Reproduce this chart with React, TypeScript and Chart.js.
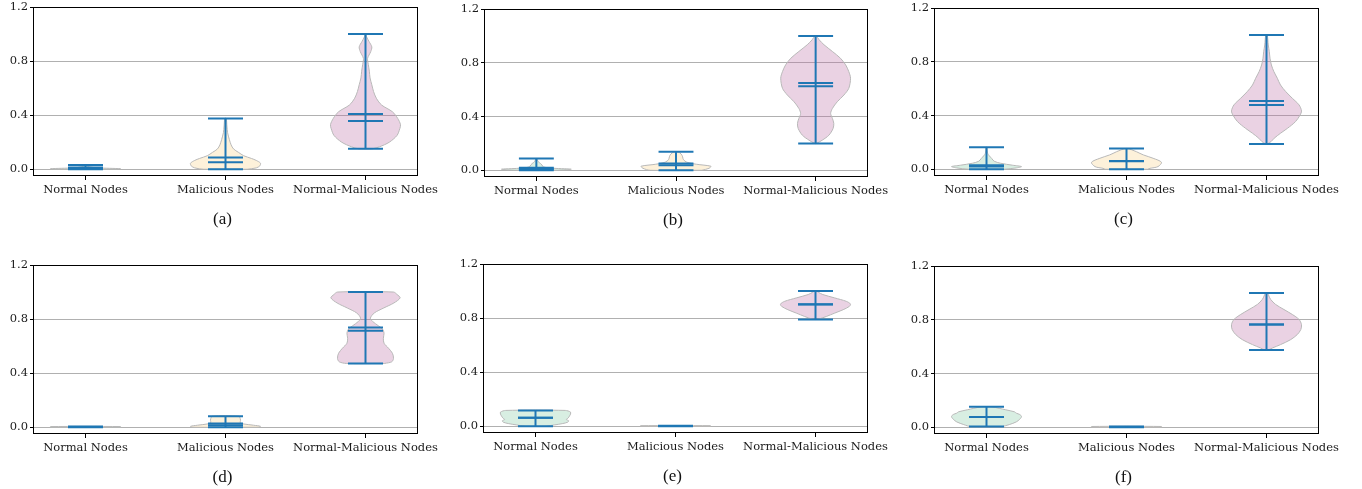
import React, { useEffect, useRef } from 'react';
import { Chart, registerables } from 'chart.js';

Chart.register(...registerables);

// ---------- data ----------
const categories = ['Normal Nodes', 'Malicious Nodes', 'Normal-Malicious Nodes'];
const panelLabels = ['(a)', '(b)', '(c)', '(d)', '(e)', '(f)'];
const yTicks = [0, 0.4, 0.8, 1.2];
const xTicks = [1, 2, 3];

// per panel: [Normal, Malicious, Normal-Malicious]
const mins = [
  [0, 0, 0.151],
  [0, 0, 0.199],
  [0, 0, 0.188],
  [0, 0, 0.472],
  [0, 0, 0.79],
  [0.005, 0, 0.575],
];
const maxs = [
  [0.032, 0.376, 1.0],
  [0.087, 0.137, 1.0],
  [0.164, 0.154, 1.0],
  [0.005, 0.082, 1.0],
  [0.117, 0.004, 1.0],
  [0.152, 0.006, 1.0],
];
const means = [
  [0.012, 0.087, 0.409],
  [0.018, 0.05, 0.625],
  [0.03, 0.062, 0.508],
  [0.002, 0.028, 0.738],
  [0.062, 0.001, 0.902],
  [0.077, 0.002, 0.764],
];
const medians = [
  [0.008, 0.052, 0.357],
  [0.01, 0.038, 0.65],
  [0.02, 0.06, 0.479],
  [0.001, 0.015, 0.713],
  [0.062, 0.001, 0.9],
  [0.077, 0.002, 0.764],
];

// density profiles: [value, relative half-width]
const densA = [
  [[0, 0.9], [0.004, 1.0], [0.01, 0.35], [0.018, 0.1], [0.025, 0.04], [0.032, 0.02]],
  [[0, 0.62], [0.01, 0.88], [0.025, 0.98], [0.045, 1.0], [0.065, 0.88], [0.08, 0.74], [0.1, 0.52], [0.125, 0.37], [0.15, 0.23], [0.18, 0.16], [0.22, 0.11], [0.27, 0.06], [0.32, 0.04], [0.376, 0.02]],
  [[0.151, 0.2], [0.166, 0.4], [0.2, 0.68], [0.25, 0.9], [0.3, 0.98], [0.33, 1.0], [0.376, 0.92], [0.425, 0.77], [0.475, 0.46], [0.525, 0.31], [0.575, 0.23], [0.625, 0.18], [0.675, 0.13], [0.725, 0.11], [0.775, 0.08], [0.82, 0.06], [0.87, 0.15], [0.905, 0.18], [0.945, 0.1], [0.98, 0.03], [1.0, 0.01]],
];
const densB = [
  [[0, 0.6], [0.008, 1.0], [0.015, 0.5], [0.025, 0.2], [0.04, 0.16], [0.05, 0.12], [0.065, 0.05], [0.087, 0.01]],
  [[0, 0.74], [0.015, 0.95], [0.03, 1.0], [0.045, 0.58], [0.06, 0.31], [0.08, 0.21], [0.1, 0.19], [0.12, 0.15], [0.137, 0.06]],
  [[0.199, 0.02], [0.224, 0.19], [0.261, 0.38], [0.311, 0.5], [0.349, 0.52], [0.386, 0.48], [0.423, 0.43], [0.46, 0.48], [0.51, 0.62], [0.56, 0.81], [0.61, 0.95], [0.685, 1.0], [0.734, 0.95], [0.784, 0.86], [0.834, 0.71], [0.884, 0.48], [0.934, 0.24], [0.971, 0.1], [1.0, 0.02]],
];
const densC = [
  [[0, 0.5], [0.01, 0.85], [0.02, 1.0], [0.03, 0.75], [0.045, 0.4], [0.06, 0.22], [0.08, 0.15], [0.1, 0.08], [0.12, 0.03], [0.164, 0.01]],
  [[0, 0.6], [0.007, 0.67], [0.02, 0.9], [0.052, 1.0], [0.082, 0.76], [0.107, 0.48], [0.13, 0.29], [0.146, 0.14], [0.154, 0.05]],
  [[0.188, 0.02], [0.206, 0.13], [0.231, 0.22], [0.268, 0.4], [0.305, 0.6], [0.355, 0.83], [0.404, 0.96], [0.434, 1.0], [0.479, 0.93], [0.528, 0.74], [0.578, 0.55], [0.627, 0.4], [0.677, 0.31], [0.727, 0.21], [0.776, 0.14], [0.826, 0.1], [0.875, 0.08], [0.925, 0.05], [1.0, 0.02]],
];
const densD = [
  [[0, 1.0], [0.005, 1.0]],
  [[0, 0.95], [0.007, 1.0], [0.015, 0.8], [0.025, 0.5], [0.035, 0.42], [0.05, 0.43], [0.065, 0.42], [0.082, 0.38]],
  [[0.472, 0.55], [0.484, 0.75], [0.509, 0.8], [0.547, 0.77], [0.584, 0.66], [0.621, 0.53], [0.658, 0.51], [0.696, 0.53], [0.725, 0.49], [0.75, 0.37], [0.783, 0.2], [0.807, 0.14], [0.845, 0.25], [0.882, 0.52], [0.919, 0.81], [0.957, 0.99], [0.982, 0.9], [1.0, 0.8]],
];
const densE = [
  [[0, 0.3], [0.01, 0.55], [0.02, 0.78], [0.03, 0.92], [0.04, 0.95], [0.05, 0.88], [0.06, 0.93], [0.075, 0.97], [0.09, 1.0], [0.105, 1.0], [0.117, 0.85]],
  [[0, 1.0], [0.004, 1.0]],
  [[0.79, 0.07], [0.812, 0.31], [0.837, 0.55], [0.862, 0.79], [0.887, 0.97], [0.904, 1.0], [0.924, 0.88], [0.949, 0.55], [0.974, 0.21], [0.991, 0.08], [1.0, 0.03]],
];
const densF = [
  [[0.005, 0.45], [0.02, 0.65], [0.04, 0.85], [0.06, 0.95], [0.08, 1.0], [0.095, 0.95], [0.105, 0.85], [0.115, 0.8], [0.13, 0.55], [0.14, 0.38], [0.152, 0.15]],
  [[0, 1.0], [0.006, 1.0]],
  [[0.575, 0.05], [0.59, 0.17], [0.615, 0.4], [0.652, 0.69], [0.69, 0.88], [0.727, 0.98], [0.764, 1.0], [0.802, 0.93], [0.839, 0.74], [0.876, 0.5], [0.914, 0.26], [0.951, 0.12], [0.976, 0.07], [1.0, 0.03]],
];
const densities = [densA, densB, densC, densD, densE, densF];

// ---------- styling / layout ----------
const violinFills = ['rgba(125,198,158,0.3)', 'rgba(248,208,132,0.3)', 'rgba(185,105,162,0.3)'];
const violinEdge = '#b8b8b8';
const statColor = '#1f77b4';
const HALF_W = 0.25;
const CAP_W = 0.125;

// plot area boxes [left, top, right, bottom] in page pixels
const panelBoxes = [
  [33, 7, 418, 176],
  [484, 9, 868, 177],
  [934, 8, 1319, 176],
  [33, 265, 418, 434],
  [483, 264, 868, 433],
  [934, 266, 1319, 434],
];

const FONT = '"DejaVu Serif", "Liberation Serif", serif';
const PAD_TOP = 10;
const PAD_RIGHT = 30;
const Y_AXIS_W = 33;
const X_AXIS_H = 40;

const framePlugin = {
  id: 'frame',
  afterDraw(chart: any) {
    const { ctx, chartArea } = chart;
    const l = Math.round(chartArea.left);
    const t = Math.round(chartArea.top);
    const r = Math.round(chartArea.right);
    const b = Math.round(chartArea.bottom);
    ctx.save();
    ctx.strokeStyle = '#000';
    ctx.lineWidth = 1;
    ctx.strokeRect(l + 0.5, t + 0.5, r - l - 1, b - t - 1);
    ctx.restore();
  },
};

function buildDatasets(p: number) {
  const ds: any[] = [];
  for (let i = 0; i < 3; i++) {
    const pos = xTicks[i];
    const prof = densities[p][i];
    const right = prof.map(([y, w]) => ({ x: pos + w * HALF_W, y }));
    const left = prof.slice().reverse().map(([y, w]) => ({ x: pos - w * HALF_W, y }));
    const poly = [...right, ...left, right[0]];
    ds.push({
      data: poly,
      showLine: true,
      fill: 'shape',
      backgroundColor: violinFills[i],
      borderColor: violinEdge,
      borderWidth: 1,
      pointRadius: 0,
      tension: 0.3,
      order: 2,
    });
    const seg = (a: { x: number; y: number }, b: { x: number; y: number }) => ({
      data: [a, b],
      showLine: true,
      fill: false,
      borderColor: statColor,
      borderWidth: 2,
      pointRadius: 0,
      tension: 0,
      order: 1,
    });
    const mn = mins[p][i];
    const mx = maxs[p][i];
    ds.push(seg({ x: pos, y: mn }, { x: pos, y: mx }));
    [mn, mx, means[p][i], medians[p][i]].forEach((v) => {
      ds.push(seg({ x: pos - CAP_W, y: v }, { x: pos + CAP_W, y: v }));
    });
  }
  return ds;
}

function Panel({ idx }: { idx: number }) {
  const ref = useRef<HTMLCanvasElement>(null);
  const [L, T, R, B] = panelBoxes[idx];
  const cw = R - L + Y_AXIS_W + PAD_RIGHT;
  const ch = B - T + PAD_TOP + X_AXIS_H;

  useEffect(() => {
    if (!ref.current) return;
    const chart = new Chart(ref.current, {
      type: 'scatter',
      data: { datasets: buildDatasets(idx) },
      options: {
        responsive: false,
        animation: false,
        devicePixelRatio: 1,
        layout: { padding: { top: PAD_TOP, right: PAD_RIGHT, left: 0, bottom: 0 } },
        plugins: { legend: { display: false }, tooltip: { enabled: false } },
        scales: {
          x: {
            type: 'linear',
            min: 0.625,
            max: 3.375,
            afterBuildTicks: (axis: any) => {
              axis.ticks = xTicks.map((v) => ({ value: v }));
            },
            afterFit: (s: any) => {
              s.height = X_AXIS_H;
            },
            grid: { drawOnChartArea: false, drawTicks: true, tickLength: 4, tickColor: '#000' },
            border: { display: false },
            ticks: {
              autoSkip: false,
              maxRotation: 0,
              minRotation: 0,
              padding: 3,
              color: '#1a1a1a',
              font: { family: FONT, size: 11.5 },
              callback: (v: any) => categories[Math.round(Number(v)) - 1] ?? '',
            },
          },
          y: {
            type: 'linear',
            min: -0.05,
            max: 1.2,
            afterBuildTicks: (axis: any) => {
              axis.ticks = yTicks.map((v) => ({ value: v }));
            },
            afterFit: (s: any) => {
              s.width = Y_AXIS_W;
            },
            grid: { color: '#b0b0b0', lineWidth: 1, tickColor: '#000', tickLength: 3 },
            border: { display: false },
            ticks: {
              padding: 2,
              color: '#1a1a1a',
              font: { family: FONT, size: 11.5 },
              callback: (v: any) => Number(v).toFixed(1),
            },
          },
        },
      },
      plugins: [framePlugin],
    } as any);
    return () => chart.destroy();
  }, [idx]);

  const cx = (L + R) / 2 - 3;
  return (
    <>
      <canvas
        ref={ref}
        width={cw}
        height={ch}
        style={{ position: 'absolute', left: L - Y_AXIS_W, top: T - PAD_TOP, width: cw, height: ch }}
      />
      <div
        style={{
          position: 'absolute',
          left: cx - 40,
          width: 80,
          top: B + 33,
          height: 20,
          lineHeight: '20px',
          textAlign: 'center',
          fontFamily: '"Liberation Serif", serif',
          fontSize: 17,
          color: '#111',
        }}
      >
        {panelLabels[idx]}
      </div>
    </>
  );
}

export default function App() {
  return (
    <div
      style={{
        position: 'absolute',
        left: 0,
        top: 0,
        width: 1362,
        height: 489,
        background: '#fff',
        overflow: 'hidden',
      }}
    >
      {panelLabels.map((_, i) => (
        <Panel key={i} idx={i} />
      ))}
    </div>
  );
}
